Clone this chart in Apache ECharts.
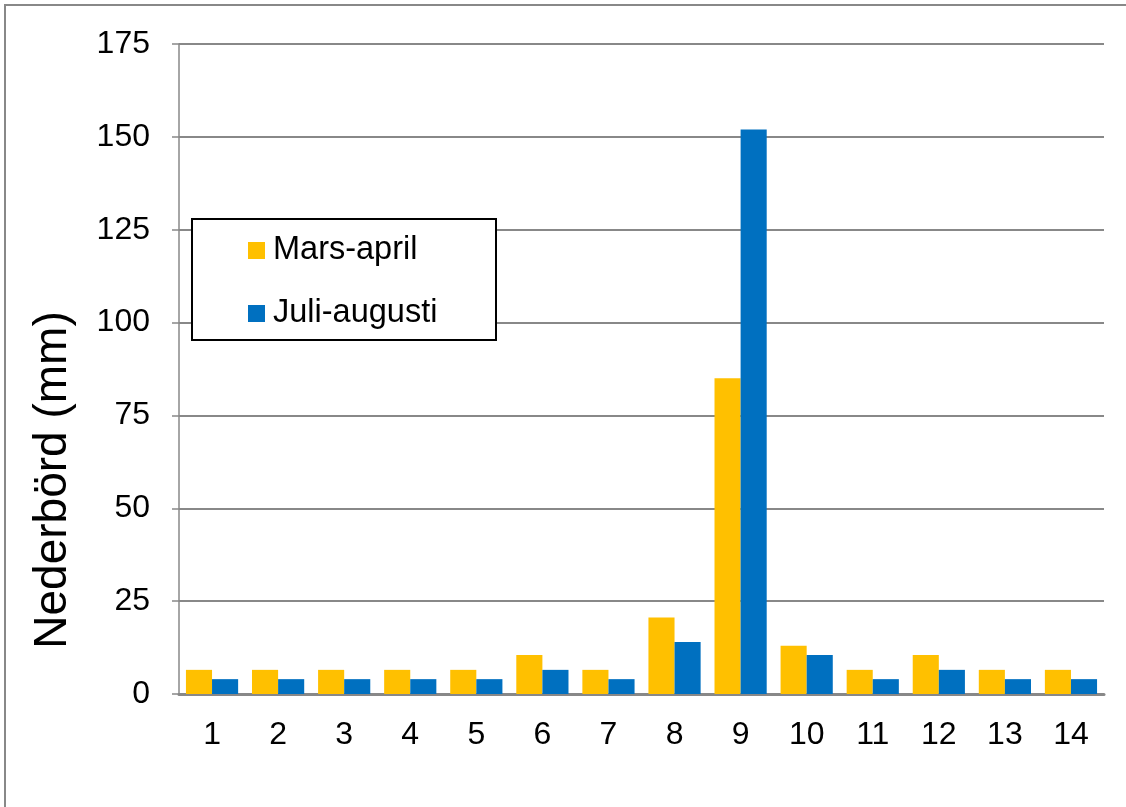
<!DOCTYPE html>
<head>
    <meta charset="utf-8">
    <script type="text/javascript" src="https://cdn.jsdelivr.net/npm/echarts@6/dist/echarts.min.js"></script>
    <style>
        body { margin: 0; background: #fff; }
    </style>
</head>
<body>
	<div id="main" style="width:1126px; height:807px"></div>
	<script type="text/javascript">
		var categories = ['1','2','3','4','5','6','7','8','9','10','11','12','13','14'];
		var marsApril = [6.5, 6.5, 6.5, 6.5, 6.5, 10.5, 6.5, 20.6, 85, 13, 6.5, 10.5, 6.5, 6.5];
		var juliAugusti = [4, 4, 4, 4, 4, 6.5, 4, 14, 152, 10.5, 4, 6.5, 4, 4];
		var yTicks = [0, 25, 50, 75, 100, 125, 150, 175];

		var font = 'Liberation Sans, Arial, sans-serif';
		var myChart = echarts.init(document.getElementById('main'));
		var option = {
			animation: false,
			textStyle: { fontFamily: font },
			grid: { left: 179, right: 22, top: 44, bottom: 113, containLabel: false },
			graphic: [
				{
					type: 'rect', z: -10,
					shape: { x: 5, y: 5, width: 1200, height: 900 },
					style: { fill: '#fff', stroke: '#888', lineWidth: 2 }
				},
				{
					type: 'rect', z: 100,
					shape: { x: 192, y: 219, width: 304, height: 121 },
					style: { fill: '#fff', stroke: '#000', lineWidth: 2 }
				},
				{
					// y axis title
					type: 'text', z: 100,
					x: 53, y: 480,
					rotation: Math.PI / 2,
					style: {
						text: 'Nederbörd (mm)',
						font: '46px ' + font,
						fill: '#000',
						align: 'center',
						verticalAlign: 'middle'
					}
				}
			],
			legend: {
				orient: 'vertical',
				left: 248,
				top: 234,
				padding: 0,
				z: 101,
				itemWidth: 17,
				itemHeight: 17,
				itemGap: 30,
				icon: 'rect',
				textStyle: { fontSize: 32.5, color: '#000', fontFamily: font, lineHeight: 32, padding: [0, 0, 0, 3] },
				data: ['Mars-april', 'Juli-augusti']
			},
			xAxis: {
				type: 'category',
				data: categories,
				axisLine: { lineStyle: { color: '#888', width: 3 } },
				axisTick: { show: false },
				axisLabel: { fontSize: 32, color: '#000', margin: 25 }
			},
			yAxis: {
				type: 'value',
				min: yTicks[0],
				max: yTicks[yTicks.length - 1],
				interval: 25,
				axisLine: { show: true, lineStyle: { color: '#888', width: 1.5 } },
				axisTick: { show: true, length: 7, lineStyle: { color: '#888', width: 1.5 } },
				axisLabel: { fontSize: 32, color: '#000', margin: 29 },
				splitLine: { lineStyle: { color: '#888', width: 2 } }
			},
			series: [
				{
					name: 'Mars-april',
					type: 'bar',
					data: marsApril,
					barGap: '0%',
					barCategoryGap: '21%',
					itemStyle: { color: '#FFC000' }
				},
				{
					name: 'Juli-augusti',
					type: 'bar',
					data: juliAugusti,
					itemStyle: { color: '#0070C0' }
				}
			]
		};
		myChart.setOption(option);
	</script>
</body>
